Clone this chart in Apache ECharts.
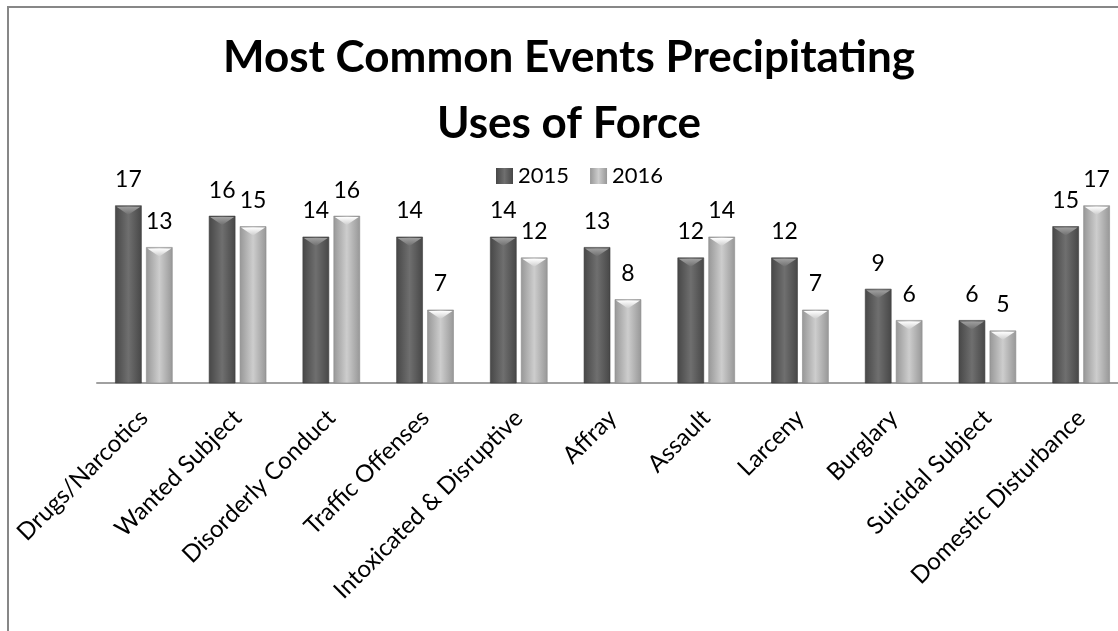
<!DOCTYPE html>
<html>
<head>
<meta charset="utf-8">
<script src="https://cdn.jsdelivr.net/npm/echarts@6/dist/echarts.min.js"></script>
<style>
  html, body { margin: 0; padding: 0; background: #fff; }
  #chart { width: 1118px; height: 631px; }
</style>
</head>
<body>
<div id="chart"></div>
<script>
// Event categories and yearly counts
const categories = [
  'Drugs/Narcotics', 'Wanted Subject', 'Disorderly Conduct', 'Traffic Offenses',
  'Intoxicated & Disruptive', 'Affray', 'Assault', 'Larceny', 'Burglary',
  'Suicidal Subject', 'Domestic Disturbance'
];
const values2015 = [17, 16, 14, 14, 14, 13, 12, 12, 9, 6, 15];
const values2016 = [13, 15, 16, 7, 12, 8, 14, 7, 6, 5, 17];
const seriesNames = ['2015', '2016'];

const FONT = 'Lato, "Open Sans", sans-serif';

// Shading for the bevelled bars
const palettes = {
  dark:  { edge: '#474747', mid: '#6f6f6f', bevelTop: '#a0a0a0', bevelBottom: '#6f6f6f', outline: '#3c3c3c' },
  light: { edge: '#979797', mid: '#cdcdcd', bevelTop: '#ffffff', bevelBottom: '#cdcdcd', outline: '#8c8c8c' }
};

function hGradient(p) {
  return new echarts.graphic.LinearGradient(0, 0, 1, 0, [
    { offset: 0, color: p.edge },
    { offset: 0.5, color: p.mid },
    { offset: 1, color: p.edge }
  ]);
}

// Draws one bevelled bar beside the category centre plus its value label
function makeRenderer(side, p) {
  return function (params, api) {
    const idx = api.value(0);
    const v = api.value(1);
    const top = api.coord([idx, v]);
    const base = api.coord([idx, 0]);
    const band = api.size([1, 0])[0];
    const bw = band * 0.277;
    const gap = band * 0.053 / 2;
    const c = top[0];
    const x0 = side < 0 ? c - gap - bw : c + gap;
    const x1 = x0 + bw;
    const y0 = top[1];
    const y1 = base[1];
    const bev = Math.min(9, (y1 - y0) / 2);
    return {
      type: 'group',
      children: [
        {
          type: 'rect',
          shape: { x: x0, y: y0, width: bw, height: y1 - y0 },
          style: { fill: hGradient(p), stroke: p.outline, lineWidth: 0.6 }
        },
        {
          type: 'polygon',
          shape: { points: [[x0 + 1, y0 + 1], [x1 - 1, y0 + 1], [(x0 + x1) / 2, y0 + bev]] },
          style: {
            fill: new echarts.graphic.LinearGradient(0, 0, 0, 1, [
              { offset: 0, color: p.bevelTop },
              { offset: 1, color: p.bevelBottom }
            ])
          }
        },
        {
          type: 'text',
          style: {
            text: String(v),
            x: (x0 + x1) / 2,
            y: y0 - 26,
            align: 'center',
            verticalAlign: 'middle',
            font: '23px ' + FONT,
            fill: '#000'
          }
        }
      ]
    };
  };
}

const chart = echarts.init(document.getElementById('chart'), null, { renderer: 'canvas' });

chart.setOption({
  backgroundColor: '#fff',
  animation: false,
  title: {
    text: 'Most Common Events Precipitating\nUses of Force',
    left: 569,
    textAlign: 'center',
    top: 25,
    padding: 0,
    textStyle: { fontFamily: FONT, fontWeight: 'bold', fontSize: 44, lineHeight: 66, color: '#000' }
  },
  legend: {
    left: 496,
    top: 165,
    padding: 0,
    itemWidth: 17,
    itemHeight: 16,
    itemGap: 21,
    icon: 'rect',
    textStyle: { fontFamily: FONT, fontSize: 22, color: '#000' },
    data: seriesNames
  },
  grid: {
    left: 97,
    top: 174.4,
    width: 1031,
    height: 208.6,
    containLabel: false,
    outerBoundsMode: 'none'
  },
  xAxis: {
    type: 'category',
    data: categories,
    axisLine: { show: true, lineStyle: { color: '#a0a0a0', width: 2 } },
    axisTick: { show: false },
    axisLabel: {
      interval: 0,
      rotate: 45,
      margin: 31,
      fontFamily: FONT,
      fontSize: 24,
      color: '#000'
    }
  },
  yAxis: {
    type: 'value',
    min: 0,
    max: 20,
    show: false,
    splitLine: { show: false }
  },
  graphic: [
    {
      type: 'polyline',
      shape: { points: [[8, 631], [8, 7], [1118, 7]] },
      style: { stroke: '#878787', lineWidth: 2, fill: null },
      z: 100
    }
  ],
  series: [
    {
      name: seriesNames[0],
      type: 'custom',
      renderItem: makeRenderer(-1, palettes.dark),
      itemStyle: { color: hGradient(palettes.dark) },
      encode: { x: 0, y: 1 },
      data: values2015.map((v, i) => [i, v])
    },
    {
      name: seriesNames[1],
      type: 'custom',
      renderItem: makeRenderer(1, palettes.light),
      itemStyle: { color: hGradient(palettes.light) },
      encode: { x: 0, y: 1 },
      data: values2016.map((v, i) => [i, v])
    }
  ]
});
</script>
</body>
</html>
